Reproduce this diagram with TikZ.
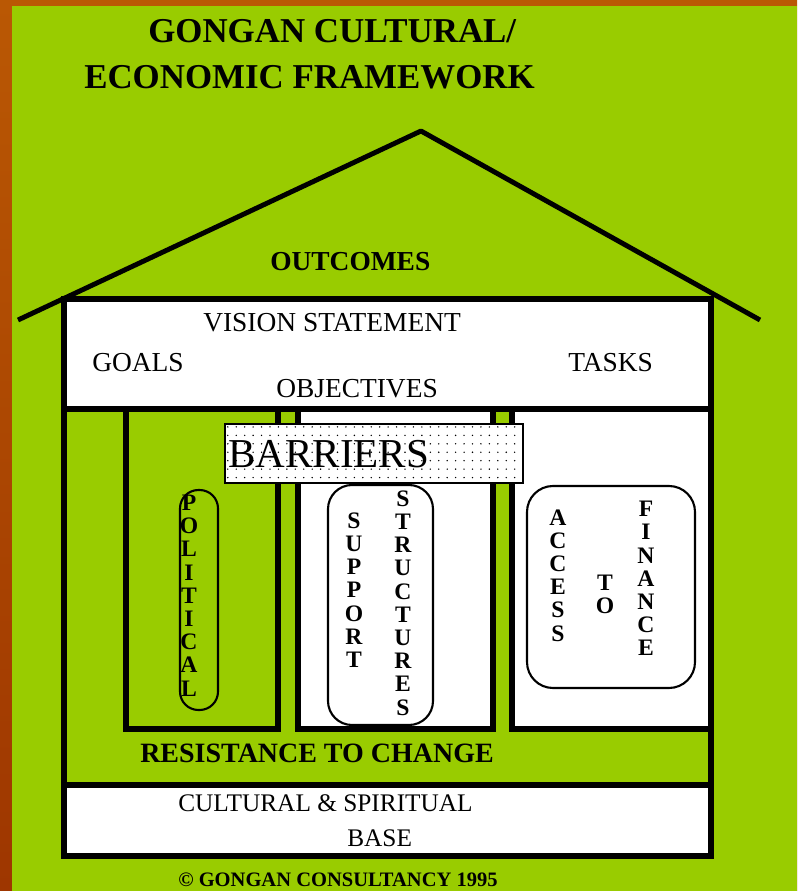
\documentclass[tikz,border=0pt]{standalone}
\usepackage{fontspec}
\setmainfont{Liberation Serif}
\usetikzlibrary{patterns.meta}

\definecolor{slidegreen}{RGB}{153,204,0}
\definecolor{slideorange}{RGB}{186,88,4}
\definecolor{slidebrown}{RGB}{158,54,0}

\begin{document}
\begin{tikzpicture}[x=0.025cm, y=-0.025cm,
    wall/.style={line width=4pt},
    capsule/.style={line width=1.5pt},
    txt/.style={anchor=base west, inner sep=0pt},
    vword/.style={font=\fontsize{16.8}{16.5}\selectfont\bfseries, align=center, inner sep=0pt}]
    \useasboundingbox (0,0) rectangle (797,891);
    \shade[top color=slideorange, bottom color=slidebrown] (0,0) rectangle (797,891);
    \fill[slidegreen] (12,6) rectangle (797,891);

    % roof
    \draw[line width=3.5pt, line join=round] (18,320) -- (421,131) -- (760,320);

    % walls, top box and base
    \filldraw[fill=white, wall] (64,299) rectangle (711,409);
    \draw[wall] (64,409) -- (64,785);
    \draw[wall] (711,409) -- (711,785);
    \filldraw[fill=white, wall] (64,785) rectangle (711,856);

    % pillars
    \filldraw[fill=slidegreen, wall] (126,409) rectangle (278,729);
    \filldraw[fill=white, wall] (298,409) rectangle (493,729);
    \filldraw[fill=white, wall] (512,409) rectangle (711,729);

    % barriers
    \filldraw[fill=white, line width=2pt] (225,424) rectangle (523,483);
    \fill[pattern={Dots[distance=6pt, radius=0.55pt]}] (226,425) rectangle (522,482);

    % capsules
    \draw[capsule, rounded corners=0.46cm] (180,490) rectangle (218,710);
    \draw[capsule, rounded corners=0.6cm] (328,485) rectangle (433,725);
    \draw[capsule, rounded corners=0.65cm] (527,486) rectangle (695,688);

    \node[txt, font=\fontsize{24.8}{30}\selectfont\bfseries] (title1) at (148,43) {GONGAN CULTURAL/};
    \node[txt, font=\fontsize{24.8}{30}\selectfont\bfseries] (title2) at (84,89) {ECONOMIC FRAMEWORK};
    \node[txt, font=\fontsize{19.5}{24}\selectfont\bfseries] (outcomes) at (270,271) {OUTCOMES};

    \node[txt, font=\fontsize{19.5}{24}\selectfont] (vision) at (203,332) {VISION STATEMENT};
    \node[txt, font=\fontsize{19.5}{24}\selectfont] (goals) at (92,371) {GOALS};
    \node[txt, font=\fontsize{19.5}{24}\selectfont] (tasks) at (568,371) {TASKS};
    \node[txt, font=\fontsize{19.5}{24}\selectfont] (objectives) at (276,397) {OBJECTIVES};

    \node[txt, font=\fontsize{29.2}{34}\selectfont] (barriers) at (228,467) {BARRIERS};

    \node[vword] (political) at (189,595.5) {P\\O\\L\\I\\T\\I\\C\\A\\L};
    \node[vword] (support) at (354,590) {S\\U\\P\\P\\O\\R\\T};
    \node[vword] (structures) at (403,603) {S\\T\\R\\U\\C\\T\\U\\R\\E\\S};
    \node[vword] (access) at (558,575.5) {A\\C\\C\\E\\S\\S};
    \node[vword] (to) at (605,594.5) {T\\O};
    \node[vword] (finance) at (646,578.5) {F\\I\\N\\A\\N\\C\\E};

    \node[txt, font=\fontsize{19.9}{24}\selectfont\bfseries] (resist) at (140,762) {RESISTANCE TO CHANGE};
    \node[txt, font=\fontsize{18}{22}\selectfont] (culture) at (178,811) {CULTURAL \& SPIRITUAL};
    \node[txt, font=\fontsize{18}{22}\selectfont] (base) at (347,846) {BASE};
    \node[txt, font=\fontsize{14.6}{18}\selectfont\bfseries] (copy) at (178,886) {© GONGAN CONSULTANCY 1995};
\end{tikzpicture}
\end{document}
